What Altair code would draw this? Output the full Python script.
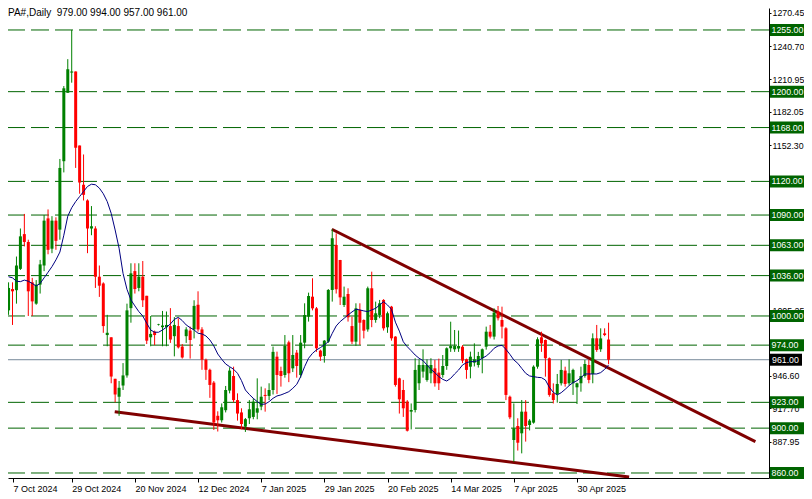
import altair as alt
import pandas as pd

# ---------------- data ----------------
opens = [1005, 1024, 1023, 1042, 1073, 1066, 1030, 1011, 1028, 1045,
         1087, 1060, 1085, 1077, 1138, 1199, 1217, 1218, 1152, 1117,
         1103, 1078, 1078, 1035, 1029, 983, 981, 944, 928, 938,
         947, 1007, 1040, 1025, 1035, 1018, 981, 986, 992, 990,
         990, 991, 982, 991, 972.7, 982, 987, 988, 1010, 988,
         961, 952, 940.6, 911, 907, 916, 933.5, 946.5, 925, 914,
         901.3, 908.8, 910, 913.8, 919.2, 929.6, 928.7, 934, 963.7, 951,
         947.4, 976.5, 953.3, 967.3, 947.4, 976.2, 999.4, 1017.2, 1006.8, 969.1,
         964.3, 977.1, 1023.2, 1063.3, 1049.9, 1009.8, 1019.6, 991, 977.1, 1005.4,
         996.4, 988, 1024.7, 996.4, 1000.9, 1014.3, 989.9, 1008.3, 981.6, 944.4,
         934, 923.6, 914.7, 916.2, 940, 950.4, 942.9, 948.9, 953.3, 949.5,
         947.4, 955.4, 971.2, 970.3, 971, 972.6, 961.4, 954.8, 958.4, 956.3,
         962.3, 972.6, 986, 981.6, 1003.9, 996.4, 989, 928, 889.4, 901.9,
         895.4, 914.7, 902.8, 904.9, 954.8, 981, 978.6, 962.3, 931, 930.4,
         940, 951.3, 940, 940, 936.4, 940, 946.5, 956.3, 948.3, 980.1,
         970.3, 984.5, 979]

highs = [1030, 1030, 1053, 1078, 1091, 1068, 1034, 1032, 1050, 1090,
         1095, 1089, 1088, 1140, 1205, 1229, 1255, 1218, 1152, 1144,
         1104, 1098, 1080, 1045, 1030, 1001, 981, 944, 942, 958,
         1011, 1047, 1047, 1047, 1049, 1018, 1000, 987, 993, 1004.5,
         1004, 1007, 999, 998, 975, 990, 990.5, 1014, 1022, 990,
         962, 953, 942, 915, 922, 937.6, 954.3, 954.8, 931, 917.7,
         909, 925, 926.6, 944.4, 937, 935.5, 940, 972.7, 968.2, 954.8,
         983, 978, 983, 969.7, 983, 1011.3, 1020.8, 1033.6, 1008, 970,
         978.5, 1024, 1077.3, 1073.7, 1050, 1026.2, 1024.7, 999.4, 1011.3, 1011.3,
         997, 1026.2, 1039.5, 1012.8, 1014.3, 1015, 1003.9, 1009, 982, 945,
         943, 925, 922, 962.3, 961.4, 970.3, 961.4, 962.3, 960.8, 962,
         965.2, 972, 994.9, 987.5, 987, 974, 962, 968.2, 975.6, 968,
         971, 990.5, 992, 1006.8, 1008.9, 1008.3, 990, 929, 922, 908.8,
         925.1, 925, 908, 956, 981, 986, 979, 963, 939.9, 948.3,
         960.8, 954.8, 961.4, 953, 940.5, 954.8, 960.8, 960.8, 984.5, 992,
         989, 989, 994]

lows = [1001, 992, 1011, 1041, 1062, 1000, 1000, 1010, 1020, 1040,
        1055, 1056, 1059, 1068, 1128, 1199, 1208, 1132, 1109, 1103,
        1056, 1072, 1025, 1017, 985, 973, 940, 923, 911, 934,
        945, 994, 1020, 1022, 1008, 975, 973, 974, 991.5, 973,
        973, 976, 964, 971, 962, 976, 962, 980, 986, 952,
        943, 927, 898.4, 897, 905, 914, 931, 923, 906.7, 899,
        896.6, 903.7, 907.9, 907.9, 916, 914.7, 925, 930, 930.5, 937,
        945, 941, 950, 945, 945, 971.2, 995, 1005, 968, 960,
        958.4, 976, 1012.8, 1020, 1009.8, 1008, 995, 975, 973.3, 974.2,
        980, 986, 990, 994, 998, 987, 985, 978, 937, 913,
        910, 897, 898.9, 914, 934, 945, 941.4, 940, 937, 934,
        945, 952, 968, 968, 968, 958, 944, 944.4, 955, 954,
        948.9, 970, 980, 979, 996, 980, 925, 908, 870, 880,
        877.5, 888, 898, 904, 953, 968, 945.9, 928, 922, 922.7,
        938, 937, 938, 929.6, 921.5, 932.5, 945, 940, 940, 968,
        968, 982, 957]

closes = [1025, 1022, 1045, 1071, 1066, 1022, 1013, 1028, 1046, 1085,
          1059, 1085, 1067, 1132, 1203, 1220, 1218, 1150, 1119, 1108,
          1078, 1080, 1035, 1027, 991, 985, 946, 930, 936, 947,
          1005, 1038, 1024, 1035, 1014, 978, 984, 983, 992.5, 991.5,
          992, 979, 992, 972, 963, 988, 978.6, 1009, 988, 961,
          952, 938.5, 905, 907, 918.6, 934, 951.3, 925, 913, 903.7,
          908, 916.8, 923.6, 917.7, 928, 928.7, 934, 968, 947.4, 946.5,
          973.3, 948.9, 965.2, 955.4, 976.2, 1000.9, 1017.8, 1006.8, 971.2, 963.7,
          978, 1023.2, 1069.3, 1023.8, 1016.6, 1017.2, 998.8, 977.1, 1006.8, 994,
          986.9, 1024.7, 996.4, 1002.4, 1011.3, 989, 1002.4, 980.1, 938.5, 925.7,
          917.7, 897.7, 916.2, 951.9, 956.3, 956.3, 956.3, 956.3, 940, 940,
          955.4, 971.2, 973.2, 973.2, 973.2, 960.2, 951.9, 963.7, 961.4, 964.3,
          970.3, 986, 981.6, 1003, 998, 990.5, 929.6, 909.6, 899.8, 887,
          914.7, 901.9, 906.7, 954.8, 979.2, 975.6, 962.3, 929.6, 925.1, 939.4,
          951.9, 939.4, 948.9, 951.9, 940, 946.5, 957.2, 943, 980.1, 969.7,
          980, 983, 961]

ma_values = [1035, 1034, 1031, 1030.6, 1032, 1031, 1029, 1026.7, 1029, 1034,
             1039, 1044, 1050, 1057, 1072, 1089, 1096.5, 1102, 1106.5, 1111,
             1115.5, 1117.5, 1117, 1114, 1109, 1102, 1091.5, 1076.7, 1060.4, 1038,
             1023.8, 1014.3, 1009, 1003.9, 1000, 993.5, 987.5, 985.5, 985.5, 987.5,
             990, 992.9, 997, 998.8, 995.9, 992, 989.6, 987.5, 984.6, 984,
             982.2, 978.6, 973.3, 966.1, 961.4, 957.2, 954.8, 952.5, 948.9, 942.4,
             934, 930, 926.6, 923.6, 921.2, 921.5, 923.6, 926.6, 928.7, 929.6,
             931, 932.5, 935.5, 939, 945.9, 954.8, 962.3, 966.7, 969.7, 971.8,
             974.2, 977.1, 984.5, 991.1, 995, 997.9, 1000.9, 1003.6, 1006, 1005.4,
             1004.5, 1003.9, 1005.4, 1006.8, 1009.8, 1012.8, 1009.8, 1006, 994.5, 986.5,
             977, 972.6, 969, 965.2, 962.3, 960.2, 956.3, 952.4, 949.5, 945.9,
             943.5, 942, 944.4, 948.3, 951.8, 956.3, 958.4, 959.3, 959.3, 960.2,
             962.3, 964.3, 967.3, 971.2, 973.3, 973.8, 970.3, 965.8, 960.8, 957.8,
             953.3, 948.9, 946.5, 945.9, 945.3, 945, 942.9, 936.4, 931.9, 929.6,
             931.6, 934.6, 937.9, 940.6, 942.3, 945, 948.3, 948.3, 948.3, 948.3,
             949.5, 952.4, 956.3]

date_labels = ["7 Oct 2024", "29 Oct 2024", "20 Nov 2024", "12 Dec 2024", "7 Jan 2025",
               "29 Jan 2025", "20 Feb 2025", "14 Mar 2025", "7 Apr 2025", "30 Apr 2025"]
date_ticks = [0, 16, 32, 48, 64, 80, 96, 112, 128, 144]

levels = [1255, 1200, 1168, 1120, 1090, 1063, 1036, 1000, 974, 923, 900, 860]
current_price = [961.0]
# price-scale labels that are not hidden under a level box
price_ticks = [1270.45, 1240.70, 1210.95, 1182.05, 1152.30,
               1005.25, 946.60, 917.70, 887.95]

trend_line = ["upper", "upper", "lower", "lower"]
trend_bar = [81.9, 189.2, 26.9, 157.2]
trend_price = [1077.3, 887.9, 914.6, 856.4]

title_text = "PA#,Daily\u00a0\u00a0979.00 994.00 957.00 961.00"

# ---------------- chart ----------------
n = min(len(opens), len(highs), len(lows), len(closes), len(ma_values))
df = pd.DataFrame({
    "i": list(range(n)),
    "open": opens[:n], "high": highs[:n], "low": lows[:n], "close": closes[:n],
    "ma": ma_values[:n],
})
df["dir"] = ["up" if c >= o else "down" for o, c in zip(df["open"], df["close"])]

W, H = 761, 470
RIGHT = 35          # whole svg stays 796 px wide so the page does not shrink it
FONT = "Liberation Sans"
FS = 8.8
GREEN = "#008000"
RED = "#ff0000"
LEVEL = "#006400"

first_tick = 1.125
tick_vals = [first_tick] + date_ticks[1:]
lbl_arr = "[" + ",".join("'%s'" % s for s in date_labels) + "]"

xs = alt.Scale(domain=[1.125, 1.125 + W / 4.0], nice=False, zero=False)
ys = alt.Scale(domain=[855.54, 1274.6], nice=False, zero=False)

xaxis = alt.Axis(values=tick_vals, labelExpr=lbl_arr + "[round(datum.value/16)]",
                 orient="bottom", tickSize=4, labelAlign="left", labelPadding=2,
                 labelFontSize=9, labelFont=FONT, labelColor="black",
                 domainColor="black", tickColor="black", grid=False, title=None,
                 labelFlush=False, labelOverlap=False, domainWidth=1, tickWidth=1)
yaxis = alt.Axis(values=price_ticks, format=".2f", orient="right", tickSize=2,
                 labelPadding=1, labelFontSize=FS, labelFont=FONT, labelColor="black",
                 domainColor="black", tickColor="black", grid=False, title=None,
                 labelFlush=False, labelOverlap=False, domainWidth=1, tickWidth=1)


def X(f):
    return alt.X(f, scale=xs, axis=xaxis)


def Y(f):
    return alt.Y(f, scale=ys, axis=yaxis)


col = alt.Color("dir:N", scale=alt.Scale(domain=["up", "down"], range=[GREEN, RED]), legend=None)

base = alt.Chart(df)

levels_df = pd.DataFrame({"level": levels, "label": ["%.2f" % v for v in levels]})
level_lines = alt.Chart(levels_df).mark_rule(strokeDash=[18, 6], color=LEVEL, strokeWidth=1).encode(
    y=Y("level:Q"))

cur_df = pd.DataFrame({"level": current_price, "label": ["%.2f" % v for v in current_price]})
cur_line = alt.Chart(cur_df).mark_rule(color="#778899", strokeWidth=1).encode(y=Y("level:Q"))

wicks = base.mark_rule(strokeWidth=1, clip=True).encode(x=X("i:Q"), y=Y("low:Q"), y2="high:Q", color=col)
bodies = base.mark_bar(size=3, clip=True).encode(x=X("i:Q"), y=Y("open:Q"), y2="close:Q", color=col)
ma_line = base.mark_line(color="#000080", strokeWidth=1, clip=True).encode(x=X("i:Q"), y=Y("ma:Q"))

trend_df = pd.DataFrame({"line": trend_line, "bar": trend_bar, "price": trend_price})
trends = alt.Chart(trend_df).mark_line(color="#800000", strokeWidth=3, clip=True).encode(
    x=X("bar:Q"), y=Y("price:Q"), detail="line:N")

level_boxes = alt.Chart(levels_df).mark_rect(color=LEVEL, yOffset=-6, y2Offset=6).encode(
    x=alt.value(W + 1), x2=alt.value(W + RIGHT), y=Y("level:Q"), y2="level:Q")
level_text = alt.Chart(levels_df).mark_text(align="left", baseline="middle", color="white",
                                            fontSize=FS, font=FONT).encode(
    x=alt.value(W + 2.5), y=Y("level:Q"), text="label:N")

cur_box = alt.Chart(cur_df).mark_rect(color="black", yOffset=-6, y2Offset=6).encode(
    x=alt.value(W + 1), x2=alt.value(W + RIGHT - 2), y=Y("level:Q"), y2="level:Q")
cur_text = alt.Chart(cur_df).mark_text(align="left", baseline="middle", color="white",
                                       fontSize=FS, font=FONT).encode(
    x=alt.value(W + 3), y=Y("level:Q"), text="label:N")

title_df = pd.DataFrame({"t": [title_text]})
title = alt.Chart(title_df).mark_text(align="left", baseline="top", color="black",
                                      fontSize=10, font=FONT).encode(
    x=alt.value(0), y=alt.value(0), text="t:N")

chart = alt.layer(
    level_lines, cur_line, trends, wicks, bodies, ma_line,
    level_boxes, level_text, cur_box, cur_text, title
).properties(
    width=W, height=H,
    autosize=alt.AutoSizeParams(type="none"),
    padding={"left": 0, "top": 0, "right": RIGHT, "bottom": 17},
    background="white",
).configure_view(stroke=None)

chart.save("out.html", embed_options={"renderer": "svg", "actions": False})
